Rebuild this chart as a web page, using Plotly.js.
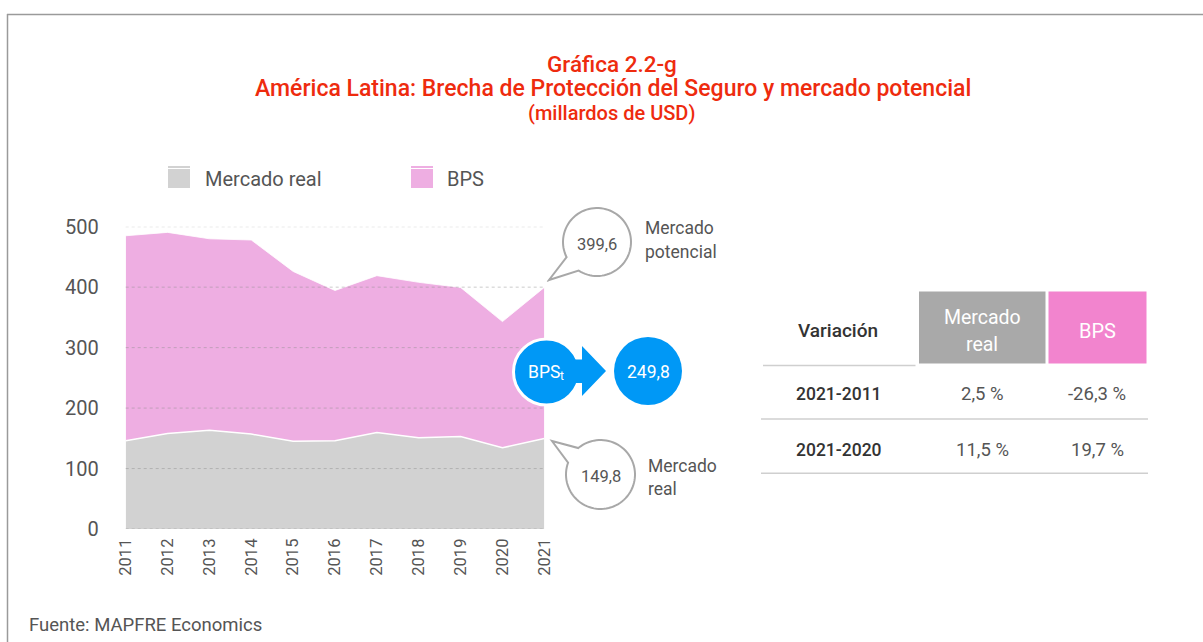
<!DOCTYPE html>
<html><head><meta charset="utf-8">
<script src="https://cdn.plot.ly/plotly-3.0.1.min.js"></script>
<style>body{margin:0;background:#fff}</style>
</head><body><div id="chart" style="width:1203px;height:642px"></div>
<script>
// ---- data ----
const years = [2011,2012,2013,2014,2015,2016,2017,2018,2019,2020,2021];
const mercadoReal = [146.1,158,163.4,157,145,146,159.5,151,153,134.3,149.8];
const bps = [338.9,332.6,316.6,321,281,248.5,259.5,257,246.5,208.7,249.8];
const yTicks = [0,100,200,300,400,500];
const seriesNames = ['Mercado real','BPS'];
const titleLines = ['Gráfica 2.2-g','América Latina: Brecha de Protección del Seguro y mercado potencial','(millardos de USD)'];
const calloutPotencial = '399,6';
const calloutReal = '149,8';
const calloutBpsT = '249,8';
const tableHead = ['Variación','Mercado','real','BPS'];
const tablePeriods = ['2021-2011','2021-2020'];
const tableRealVar = ['2,5 %','11,5 %'];
const tableBpsVar = ['-26,3 %','19,7 %'];
const sourceText = 'Fuente: MAPFRE Economics';

// ---- helpers (pixel -> paper) ----
const W = 1203, H = 642;
const px = x => x / W;
const py = y => 1 - y / H;
const FONT = 'Roboto, "Open Sans", sans-serif';
const GRAY_TXT = '#555555';
const RED = '#EE2B0E';
const BLUE = '#0098F6';
const PINK = '#EEAEE2';
const GREY = '#D2D2D2';

function pathFromPts(pts){
  return 'M ' + pts.map(p => px(p[0]).toFixed(5) + ',' + py(p[1]).toFixed(5)).join(' L ') + ' Z';
}
function bubblePath(cx, cy, r, tip, aFrom, aTo){
  const pts = [];
  const n = 80;
  for (let i = 0; i <= n; i++){
    const a = (aFrom + (aTo - aFrom) * i / n) * Math.PI / 180;
    pts.push([cx + r * Math.cos(a), cy + r * Math.sin(a)]);
  }
  pts.push(tip);
  return pathFromPts(pts);
}
function circ(cx, cy, r, fill, lineColor, lw){
  return {type:'circle', xref:'paper', yref:'paper', layer:'above',
    x0:px(cx-r), x1:px(cx+r), y0:py(cy+r), y1:py(cy-r),
    fillcolor:fill, line:{color:lineColor||fill, width:lw||0}};
}
function rect(x0,y0,x1,y1,fill){
  return {type:'rect', xref:'paper', yref:'paper', layer:'above',
    x0:px(x0), x1:px(x1), y0:py(y1), y1:py(y0), fillcolor:fill, line:{width:0}};
}
function hline(x0,x1,y,color,w){
  return {type:'line', xref:'paper', yref:'paper', layer:'above',
    x0:px(x0), x1:px(x1), y0:py(y), y1:py(y), line:{color:color, width:w}};
}
function txt(text, x, y, size, color, opts, weight){
  const o = Object.assign({text:text, xref:'paper', yref:'paper', x:px(x), y:py(y),
    xanchor:'center', yanchor:'middle', showarrow:false,
    font:{family:FONT, size:size, color:color}}, opts||{});
  if (weight) o.font.weight = weight;
  return o;
}

// ---- traces ----
const traces = [
  {x:years, y:mercadoReal, name:seriesNames[0], type:'scatter', mode:'lines',
   stackgroup:'one', fillcolor:GREY, line:{color:'#ffffff', width:1.5}, showlegend:false, hoverinfo:'x+y'},
  {x:years, y:bps, name:seriesNames[1], type:'scatter', mode:'lines',
   stackgroup:'one', fillcolor:PINK, line:{color:'rgba(255,255,255,0.8)', width:1}, showlegend:false, hoverinfo:'x+y'}
];

// ---- shapes ----
const shapes = [];
// frame
shapes.push({type:'line', xref:'paper', yref:'paper', x0:px(7), x1:1, y0:py(14.5), y1:py(14.5), line:{color:'#9a9a9a', width:1.5}});
shapes.push({type:'line', xref:'paper', yref:'paper', x0:px(7.5), x1:px(7.5), y0:py(14), y1:0, line:{color:'#9a9a9a', width:1.5}});
// gridlines above areas
yTicks.forEach(v => shapes.push({type:'line', xref:'paper', yref:'y', layer:'above',
  x0:px(125.7), x1:px(544.3), y0:v, y1:v, line:{color:'rgba(140,140,140,0.45)', width:1, dash:'dot'}}));
// legend swatches
shapes.push(rect(168,166,190,188,GREY));
shapes.push(hline(168,190,168.5,'#ffffff',1));
shapes.push(rect(411,166,433,188,PINK));
shapes.push(hline(411,433,168.5,'#ffffff',1));
// speech bubbles
shapes.push({type:'path', xref:'paper', yref:'paper', layer:'above',
  path:bubblePath(597,242,34,[549,280],153.4,482.7), fillcolor:'#ffffff', line:{color:'#A8A8A8', width:2}});
shapes.push({type:'path', xref:'paper', yref:'paper', layer:'above',
  path:bubblePath(600.5,474.5,34.5,[552,441],230,560), fillcolor:'#ffffff', line:{color:'#A8A8A8', width:2}});
// blue BPS_t -> value
shapes.push(circ(546.5,372,33,BLUE,'#ffffff',3));
shapes.push({type:'path', xref:'paper', yref:'paper', layer:'above',
  path:pathFromPts([[566,359.5],[582,359.5],[582,346],[606,371],[582,396],[582,383],[566,383]]),
  fillcolor:BLUE, line:{width:0}});
shapes.push(circ(648,371,34,BLUE));
// table
shapes.push(rect(919,291.5,1045.5,363.5,'#A9A9A9'));
shapes.push(rect(1048.5,291.5,1146.5,363.5,'#F284CE'));
shapes.push(hline(763,915.5,365.5,'#cfcfcf',1.5));
shapes.push(hline(761,1148,419,'#cfcfcf',1.5));
shapes.push(hline(761,1148,473.3,'#cfcfcf',1.5));

// ---- annotations ----
const ann = [];
ann.push(txt(titleLines[0],612,64,22.5,RED,null,500));
ann.push(txt(titleLines[1],612.5,88,23,RED,null,500));
ann.push(txt(titleLines[2],611,113,20,RED,null,500));
ann.push(txt(seriesNames[0],202.5,179,20,GRAY_TXT,{xanchor:'left'}));
ann.push(txt(seriesNames[1],444.5,179,20,GRAY_TXT,{xanchor:'left'}));
ann.push(txt(calloutPotencial,597,244,16.5,GRAY_TXT));
ann.push(txt('Mercado',643,228,17.5,GRAY_TXT,{xanchor:'left'}));
ann.push(txt('potencial',643,251.5,17.5,GRAY_TXT,{xanchor:'left'}));
ann.push(txt(calloutReal,601,476,16.5,GRAY_TXT));
ann.push(txt('Mercado',646,465.5,17.5,GRAY_TXT,{xanchor:'left'}));
ann.push(txt('real',646,489,17.5,GRAY_TXT,{xanchor:'left'}));
ann.push(txt('BPS',562,371.5,17.5,'#ffffff',{xanchor:'right'}));
ann.push(txt('t',557.5,376,12,'#ffffff',{xanchor:'left'}));
ann.push(txt(calloutBpsT,648,372,17.5,'#ffffff'));
ann.push(txt(tableHead[0],838,330.5,19,'#333333',null,500));
ann.push(txt(tableHead[1],982,317.5,19.5,'#ffffff'));
ann.push(txt(tableHead[2],982,344.5,19.5,'#ffffff'));
ann.push(txt(tableHead[3],1097,330.5,20,'#ffffff'));
const rowY = [393.5,450];
tablePeriods.forEach((p,i) => {
  ann.push(txt(p,839,rowY[i],17.5,'#333333',null,500));
  ann.push(txt(tableRealVar[i],982,rowY[i],18.5,GRAY_TXT));
  ann.push(txt(tableBpsVar[i],1097,rowY[i],18.5,GRAY_TXT));
});
ann.push(txt(sourceText,27,625,18.5,GRAY_TXT,{xanchor:'left'}));

const layout = {
  width:W, height:H, margin:{l:0,r:0,t:0,b:0},
  paper_bgcolor:'#ffffff', plot_bgcolor:'rgba(0,0,0,0)',
  showlegend:false,
  font:{family:FONT, color:GRAY_TXT},
  xaxis:{domain:[px(125.7),px(544.3)], range:[2011,2021], tickvals:years, ticktext:years.map(String),
    tickangle:-90, ticks:'outside', ticklen:2, tickcolor:'rgba(0,0,0,0)',
    tickfont:{family:FONT,size:16.5,color:GRAY_TXT}, showgrid:false, zeroline:false, showline:false, fixedrange:true},
  yaxis:{domain:[py(529),py(226.7)], range:[0,500], tickvals:yTicks,
    ticks:'outside', ticklen:22, tickcolor:'rgba(0,0,0,0)',
    tickfont:{family:FONT,size:20,color:GRAY_TXT}, showgrid:false, zeroline:false, showline:false, fixedrange:true},
  shapes:shapes, annotations:ann
};
Plotly.newPlot('chart', traces, layout, {displayModeBar:false, staticPlot:true});
</script></body></html>
